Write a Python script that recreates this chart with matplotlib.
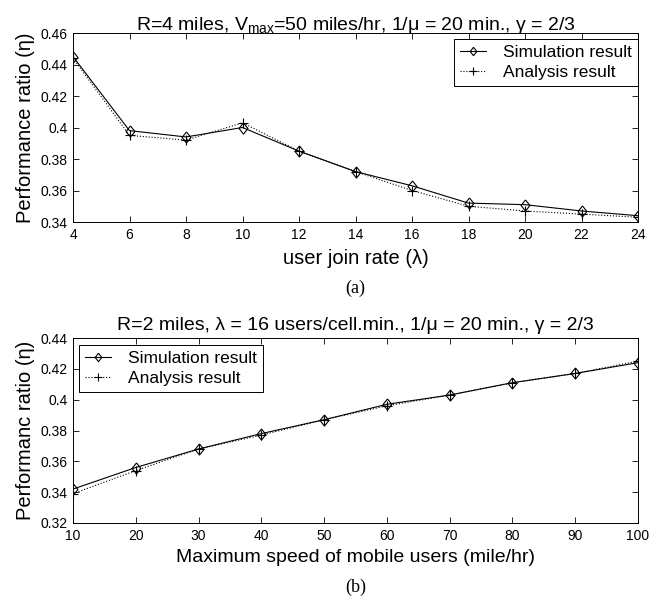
import numpy as np
import matplotlib.pyplot as plt

plt.rcParams['font.family'] = ['Liberation Sans', 'DejaVu Sans']
plt.rcParams['mathtext.fontset'] = 'custom'
plt.rcParams['mathtext.rm'] = 'Liberation Sans'
plt.rcParams['mathtext.it'] = 'Liberation Sans'

# panel (a): performance ratio vs user join rate
join_rate = [4, 6, 8, 10, 12, 14, 16, 18, 20, 22, 24]
sim_a = [0.445, 0.398, 0.394, 0.400, 0.385, 0.372, 0.363, 0.352, 0.351, 0.347, 0.344]
ana_a = [0.444, 0.395, 0.392, 0.403, 0.385, 0.372, 0.360, 0.350, 0.347, 0.345, 0.343]

# panel (b): performance ratio vs maximum speed
speed = [10, 20, 30, 40, 50, 60, 70, 80, 90, 100]
sim_b = [0.342, 0.356, 0.368, 0.378, 0.387, 0.397, 0.403, 0.411, 0.417, 0.424]
ana_b = [0.339, 0.354, 0.368, 0.377, 0.387, 0.396, 0.403, 0.411, 0.417, 0.425]

# matlab-ish diamond, a bit wider than mpl's 'd'
diamond = [(0, 1), (0.8, 0), (0, -1), (-0.8, 0), (0, 1)]

W, H = 649, 597
fig = plt.figure(figsize=(W / 100, H / 100), dpi=100)

def box(l, t, r, b):
    return [l / W, 1 - b / H, (r - l) / W, (b - t) / H]

def panel(ax, x, ys, ya, xt, yt, xlab, ylab, title, legloc, anchor, tag, tpad, xfs):
    ax.plot(x, ys, '-', color='black', lw=0.8, marker=diamond, ms=8,
            mfc='none', mec='black', mew=0.8, label='Simulation result')
    ax.plot(x, ya, ':', color='black', lw=0.8, marker='+', ms=7,
            mew=0.8, label='Analysis result')
    ax.set_xlim(xt[0], xt[-1])
    ax.set_ylim(yt[0], yt[-1])
    ax.set_xticks(xt)
    ax.set_yticks(yt)
    ax.set_yticklabels([('%.2f' % v).rstrip('0') for v in yt])
    ax.tick_params(direction='in', top=True, right=True, labelsize=10,
                   length=4, width=0.6, pad=4)
    ax.set_xlabel(xlab, fontsize=xfs, labelpad=5)
    ax.set_ylabel(ylab, fontsize=14.5, labelpad=4)
    ax.set_title(title, fontsize=14, pad=tpad)
    leg = ax.legend(loc=legloc, bbox_to_anchor=anchor, fontsize=12.5,
                    fancybox=False, framealpha=1, edgecolor='black',
                    borderaxespad=0, handlelength=1.5, handletextpad=1.0,
                    borderpad=0.35, labelspacing=0.25, markerscale=0.75)
    leg.get_frame().set_linewidth(0.7)
    for s in ax.spines.values():
        s.set_linewidth(0.7)
    ax.text(0.5, -0.35, tag, transform=ax.transAxes, ha='center', va='center',
            fontsize=13, family='Liberation Serif')

ax1 = fig.add_axes(box(73, 33, 638, 222))
panel(ax1, join_rate, sim_a, ana_a, list(range(4, 25, 2)),
      [0.34, 0.36, 0.38, 0.40, 0.42, 0.44, 0.46],
      'user join rate (λ)', 'Performance ratio (η)',
      r'R=4 miles, V$_{\mathrm{max}}$=50 miles/hr, 1/μ = 20 min., γ = 2/3',
      'upper right', (1.0, 1 - 6 / 189), '(a)', 2, 14.5)

ax2 = fig.add_axes(box(73, 338, 638, 523))
panel(ax2, speed, sim_b, ana_b, list(range(10, 101, 10)),
      [0.32, 0.34, 0.36, 0.38, 0.40, 0.42, 0.44],
      'Maximum speed of mobile users (mile/hr)', 'Performanc ratio (η)',
      'R=2 miles, λ = 16 users/cell.min., 1/μ = 20 min., γ = 2/3',
      'upper left', (6 / 565, 1 - 7 / 185), '(b)', 6, 14)

fig.savefig('out.png', dpi=100)
